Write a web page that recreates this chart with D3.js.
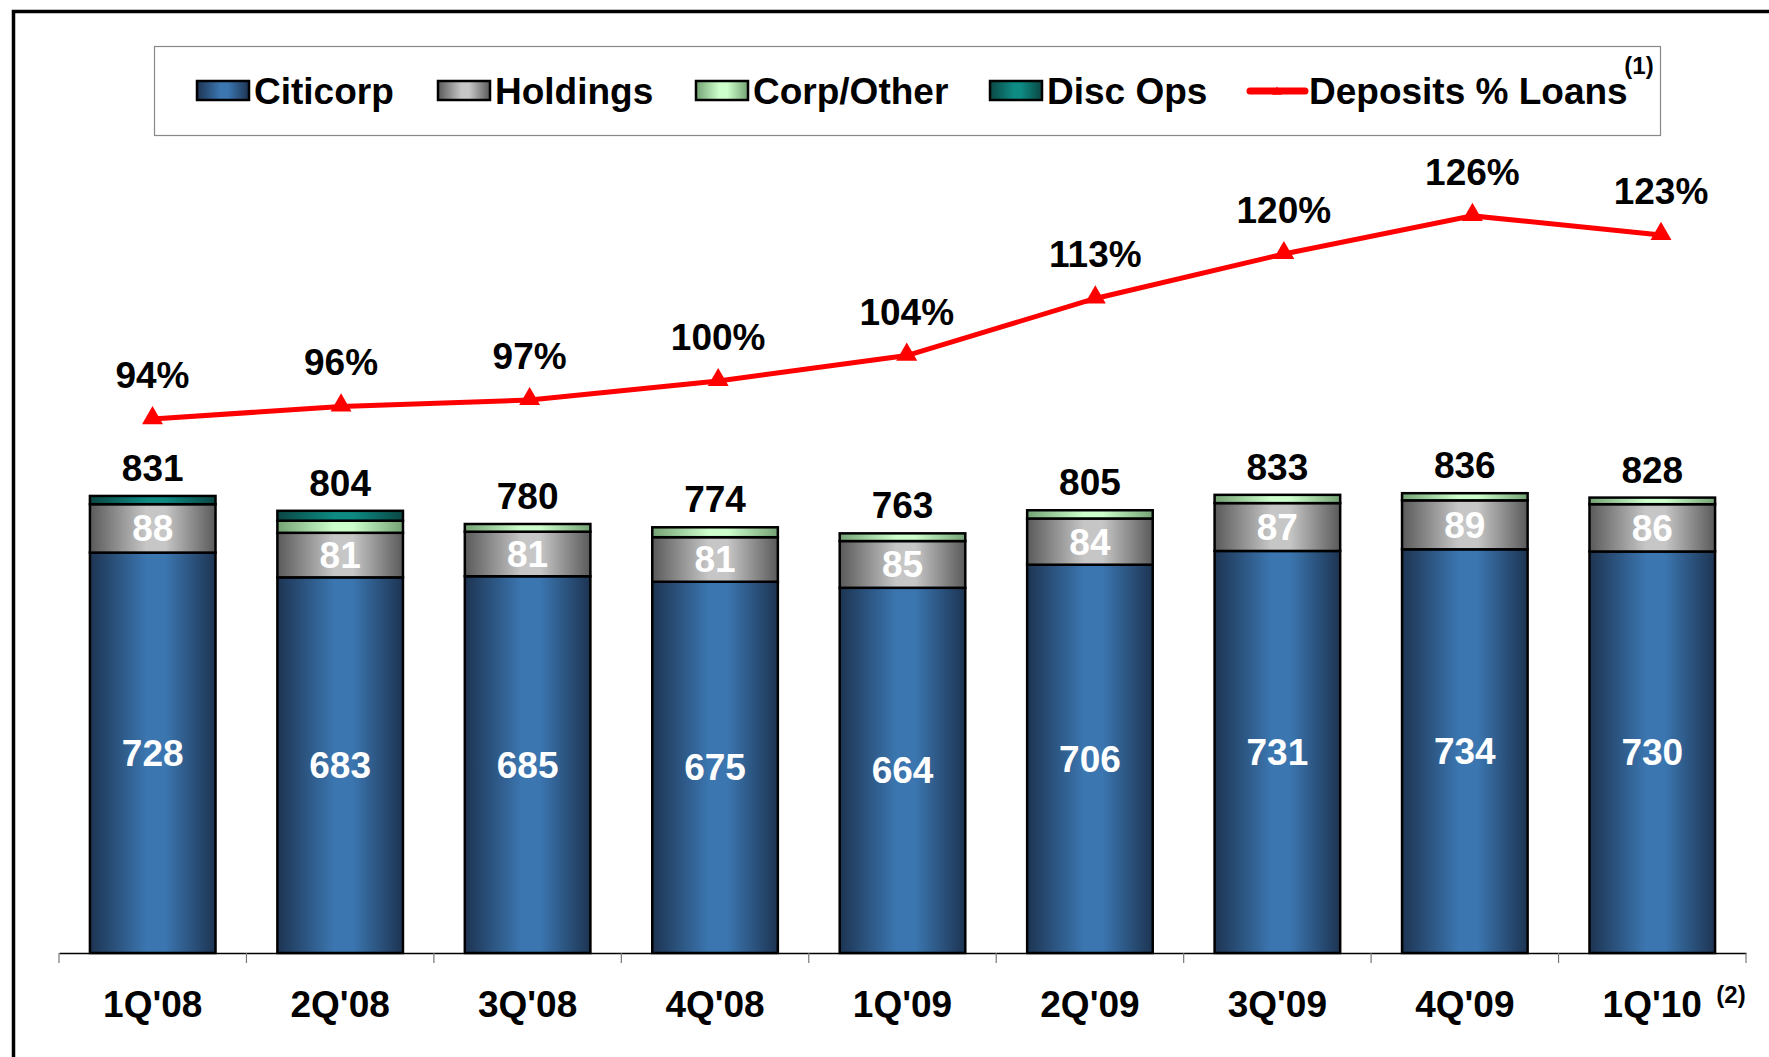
<!DOCTYPE html>
<html>
<head>
<meta charset="utf-8">
<script src="https://cdn.jsdelivr.net/npm/d3@7"></script>
<style>
  html, body { margin: 0; padding: 0; background: #fff; }
  svg text { font-family: "Liberation Sans", Arial, sans-serif; font-weight: bold; }
</style>
</head>
<body>
<svg id="chart" width="1769" height="1057"></svg>
<script>
var quarters = ["1Q'08", "2Q'08", "3Q'08", "4Q'08", "1Q'09", "2Q'09", "3Q'09", "4Q'09", "1Q'10"];
var citicorp  = [728, 683, 685, 675, 664, 706, 731, 734, 730];
var holdings  = [88, 81, 81, 81, 85, 84, 87, 89, 86];
var corpOther = [0, 22, 14, 18, 14, 15, 15, 13, 12];
var discOps   = [15, 18, 0, 0, 0, 0, 0, 0, 0];
var totals    = [831, 804, 780, 774, 763, 805, 833, 836, 828];
var depositsPct = [94, 96, 97, 100, 104, 113, 120, 126, 123];

var seriesNames = ["Citicorp", "Holdings", "Corp/Other", "Disc Ops"];
var seriesValues = [citicorp, holdings, corpOther, discOps];
// edge / centre colours for the cylinder-like shading
var seriesColors = [
  ["#1d3452", "#3b76b0"],
  ["#5a5a5a", "#c6c6c6"],
  ["#74a274", "#ccffcc"],
  ["#0b4744", "#0d8a82"]
];

var FS = 37;
var svg = d3.select("#chart");

// gradients
var defs = svg.append("defs");
seriesColors.forEach(function(c, i) {
  var g = defs.append("linearGradient")
      .attr("id", "grad" + i)
      .attr("x1", 0).attr("x2", 1).attr("y1", 0).attr("y2", 0);
  g.append("stop").attr("offset", "0%").attr("stop-color", c[0]);
  g.append("stop").attr("offset", "45%").attr("stop-color", c[1]);
  g.append("stop").attr("offset", "60%").attr("stop-color", c[1]);
  g.append("stop").attr("offset", "100%").attr("stop-color", c[0]);
});

// outer frame (left + top only visible)
svg.append("path")
  .attr("d", "M13.5,1057 L13.5,11.5 L1769,11.5")
  .attr("fill", "none")
  .attr("stroke", "#000")
  .attr("stroke-width", 3.5);

var x = d3.scaleBand()
  .domain(quarters)
  .range([59, 1746])
  .paddingInner(0.33)
  .paddingOuter(0.165);

// the line sits on its own (slightly wider) category axis
var xLine = d3.scalePoint()
  .domain(quarters)
  .range([152.5, 1661]);

var y = d3.scaleLinear()
  .domain([0, 1000])
  .range([953, 403]);

var yLine = d3.scaleLinear()
  .domain([90, 130])
  .range([444.5, 190.5]);

// stacked data
var table = quarters.map(function(q, i) {
  var row = { q: q };
  seriesNames.forEach(function(s, k) { row[s] = seriesValues[k][i]; });
  return row;
});
var stacked = d3.stack().keys(seriesNames)(table);

var layers = svg.append("g").selectAll("g")
  .data(stacked)
  .join("g")
  .attr("fill", function(d, i) { return "url(#grad" + i + ")"; });

layers.selectAll("rect")
  .data(function(d) { return d.filter(function(p) { return p[1] - p[0] > 0; }); })
  .join("rect")
  .attr("x", function(d) { return x(d.data.q); })
  .attr("width", x.bandwidth())
  .attr("y", function(d) { return y(d[1]); })
  .attr("height", function(d) { return y(d[0]) - y(d[1]); })
  .attr("stroke", "#000")
  .attr("stroke-width", 2.5);

// x axis
var axis = svg.append("g")
  .attr("transform", "translate(0," + 953 + ")")
  .call(d3.axisBottom(x).tickSize(0).tickFormat(""));
axis.select(".domain").attr("stroke", "#000").attr("stroke-width", 1.5);
var tickPos = quarters.map(function(q) { return x(q) - x.step() * x.paddingInner() / 2; });
tickPos.push(x(quarters[quarters.length - 1]) + x.bandwidth() + x.step() * x.paddingInner() / 2);
axis.selectAll("line.sep")
  .data(tickPos)
  .join("line")
  .attr("class", "sep")
  .attr("x1", function(d) { return d; }).attr("x2", function(d) { return d; })
  .attr("y1", 0).attr("y2", 10)
  .attr("stroke", "#777").attr("stroke-width", 1.2);

svg.append("g").selectAll("text")
  .data(quarters)
  .join("text")
  .attr("x", function(d) { return x(d) + x.bandwidth() / 2; })
  .attr("y", 1017)
  .attr("text-anchor", "middle")
  .attr("font-size", FS)
  .attr("fill", "#000")
  .text(function(d) { return d; });

svg.append("text")
  .attr("x", 1731).attr("y", 1003)
  .attr("text-anchor", "middle")
  .attr("font-size", 24)
  .text("(2)");

// segment labels
var inner = svg.append("g").attr("fill", "#fff").attr("font-size", FS).attr("text-anchor", "middle");
[0, 1].forEach(function(k) {
  inner.selectAll("text.s" + k)
    .data(stacked[k])
    .join("text")
    .attr("class", "s" + k)
    .attr("x", function(d) { return x(d.data.q) + x.bandwidth() / 2; })
    .attr("y", function(d) { return (y(d[0]) + y(d[1])) / 2 + 13; })
    .text(function(d) { return d[1] - d[0]; });
});

// total labels
svg.append("g").selectAll("text")
  .data(totals)
  .join("text")
  .attr("x", function(d, i) { return x(quarters[i]) + x.bandwidth() / 2; })
  .attr("y", function(d) { return y(d) - 15; })
  .attr("text-anchor", "middle")
  .attr("font-size", FS)
  .attr("fill", "#000")
  .text(function(d) { return d; });

// deposits line
var line = d3.line()
  .x(function(d, i) { return xLine(quarters[i]); })
  .y(function(d) { return yLine(d); });

svg.append("path")
  .datum(depositsPct)
  .attr("d", line)
  .attr("fill", "none")
  .attr("stroke", "#ff0000")
  .attr("stroke-width", 5);

var tri = d3.symbol().type(d3.symbolTriangle).size(190);
svg.append("g").selectAll("path")
  .data(depositsPct)
  .join("path")
  .attr("d", tri)
  .attr("transform", function(d, i) {
    return "translate(" + xLine(quarters[i]) + "," + (yLine(d) - 1) + ")";
  })
  .attr("fill", "#ff0000");

svg.append("g").selectAll("text")
  .data(depositsPct)
  .join("text")
  .attr("x", function(d, i) { return xLine(quarters[i]); })
  .attr("y", function(d) { return yLine(d) - 31; })
  .attr("text-anchor", "middle")
  .attr("font-size", FS)
  .attr("fill", "#000")
  .text(function(d) { return d + "%"; });

// legend
var legend = svg.append("g");
legend.append("rect")
  .attr("x", 154.5).attr("y", 46.5)
  .attr("width", 1506).attr("height", 89)
  .attr("fill", "#fff")
  .attr("stroke", "#888").attr("stroke-width", 1.2);

var legendX = [197, 438, 696, 990];
seriesNames.forEach(function(s, i) {
  legend.append("rect")
    .attr("x", legendX[i]).attr("y", 81)
    .attr("width", 52).attr("height", 19)
    .attr("fill", "url(#grad" + i + ")")
    .attr("stroke", "#000").attr("stroke-width", 2.5);
  legend.append("text")
    .attr("x", legendX[i] + 57).attr("y", 104)
    .attr("font-size", FS)
    .text(s);
});
legend.append("line")
  .attr("x1", 1250).attr("x2", 1305)
  .attr("y1", 91).attr("y2", 91)
  .attr("stroke", "#ff0000").attr("stroke-width", 7)
  .attr("stroke-linecap", "round");
legend.append("path")
  .attr("d", d3.symbol().type(d3.symbolTriangle).size(40))
  .attr("transform", "translate(1277,92)")
  .attr("fill", "#ff0000");
legend.append("text")
  .attr("x", 1309).attr("y", 104)
  .attr("font-size", FS)
  .text("Deposits % Loans");
legend.append("text")
  .attr("x", 1639).attr("y", 74)
  .attr("text-anchor", "middle")
  .attr("font-size", 24)
  .text("(1)");
</script>
</body>
</html>
